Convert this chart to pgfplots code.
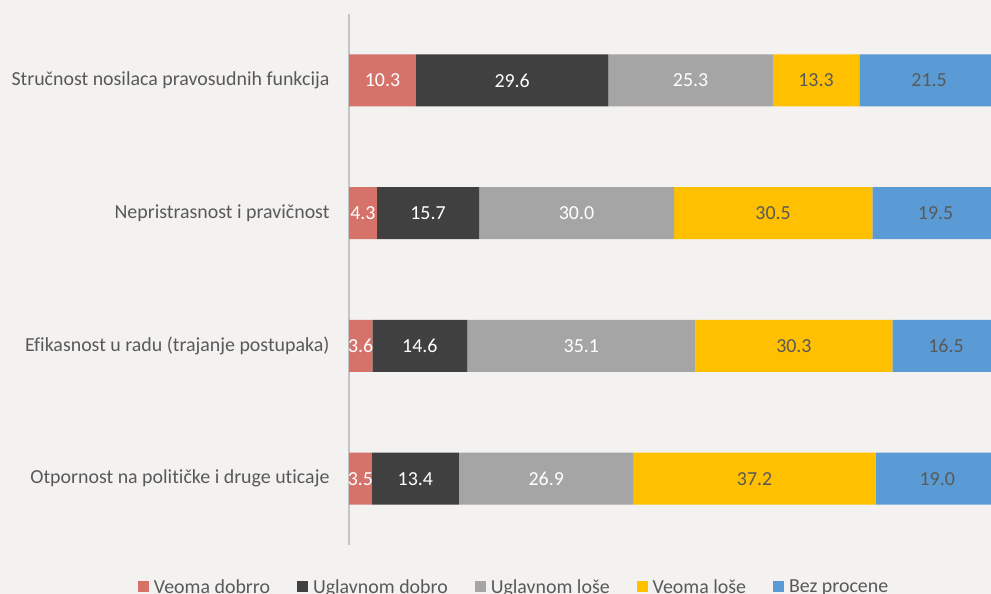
\documentclass[border=0pt]{standalone}
\usepackage{pgfplots}
\usepackage{pgfplotstable}
\pgfplotsset{compat=1.18}
\usepackage{fontspec}
\setmainfont{Carlito}[Ligatures=NoCommon]
\definecolor{bg}{HTML}{F3F2F0}
\definecolor{cA}{HTML}{D5736B}
\definecolor{cB}{HTML}{404040}
\definecolor{cC}{HTML}{A5A5A5}
\definecolor{cD}{HTML}{FFC000}
\definecolor{cE}{HTML}{5B9BD5}
\definecolor{txt}{HTML}{595959}
\definecolor{axl}{HTML}{C4C4C4}

\pgfplotstableread{
y a b c d e
0 3.5 13.4 26.9 37.2 19.0
1 3.6 14.6 35.1 30.3 16.5
2 4.3 15.7 30.0 30.5 19.5
3 10.3 29.6 25.3 13.3 21.5
}\datatab

% label positions (segment midpoints) and values
\pgfplotstableread{
x y l
1.75 0 3.5
10.2 0 13.4
30.35 0 26.9
1.8 1 3.6
10.9 1 14.6
35.75 1 35.1
2.15 2 4.3
12.15 2 15.7
35.0 2 30.0
5.15 3 10.3
25.1 3 29.6
52.55 3 25.3
}\whitelabels
\pgfplotstableread{
x y l
62.4 0 37.2
90.5 0 19.0
68.45 1 30.3
91.85 1 16.5
65.25 2 30.5
90.25 2 19.5
71.85 3 13.3
89.25 3 21.5
}\darklabels

\newcommand{\lblfont}{\fontsize{19.9bp}{23bp}\selectfont}

\begin{document}
\begin{tikzpicture}
\path[use as bounding box, clip] (0,0) rectangle (991bp,594bp);
\fill[bg] (0,0) rectangle (991bp,594bp);
\begin{axis}[
  at={(349bp,49bp)}, anchor=south west,
  scale only axis, width=650bp, height=531bp,
  xmin=0, xmax=100, ymin=-0.5, ymax=3.5,
  xbar stacked, bar width=52bp,
  axis x line=none,
  axis y line=left,
  y axis line style={draw=axl, line width=1.3bp, -},
  ytick={0,1,2,3},
  yticklabels={Otpornost na političke i druge uticaje, Efikasnost u radu (trajanje postupaka), Nepristrasnost i pravičnost, Stručnost nosilaca pravosudnih funkcija},
  major tick length=0pt,
  yticklabel style={font=\lblfont, text=txt, xshift=-16bp},
  clip=false,
  legend columns=5,
  legend style={at={(0.254,-0.079)}, anchor=center, draw=none, fill=none,
    font=\lblfont, text=txt,
    /tikz/every even column/.append style={column sep=25bp},
    /tikz/every odd column/.append style={column sep=3bp}},
  legend image code/.code={\fill[#1] (0bp,-5.5bp) rectangle (11bp,5.5bp);},
]
\addplot[fill=cA, draw=none] table[x=a, y=y] {\datatab};
\addplot[fill=cB, draw=none] table[x=b, y=y] {\datatab};
\addplot[fill=cC, draw=none] table[x=c, y=y] {\datatab};
\addplot[fill=cD, draw=none] table[x=d, y=y] {\datatab};
\addplot[fill=cE, draw=none] table[x=e, y=y] {\datatab};
\legend{Veoma dobrro, Uglavnom dobro, Uglavnom loše, Veoma loše, Bez procene}
\end{axis}
\begin{axis}[
  at={(349bp,49bp)}, anchor=south west,
  scale only axis, width=650bp, height=531bp,
  xmin=0, xmax=100, ymin=-0.5, ymax=3.5,
  hide axis, clip=false,
]
\addplot[draw=none, mark=none, nodes near coords, point meta=explicit symbolic,
  every node near coord/.style={anchor=center, text=white, font=\lblfont}]
  table[x=x, y=y, meta=l] {\whitelabels};
\addplot[draw=none, mark=none, nodes near coords, point meta=explicit symbolic,
  every node near coord/.style={anchor=center, text=txt, font=\lblfont}]
  table[x=x, y=y, meta=l] {\darklabels};
\end{axis}
\end{tikzpicture}
\end{document}
